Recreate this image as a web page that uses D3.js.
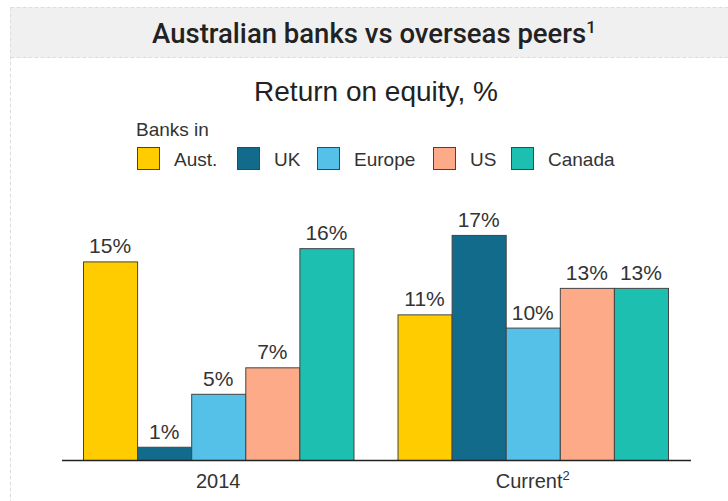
<!DOCTYPE html>
<html>
<head>
<meta charset="utf-8">
<script src="https://cdn.jsdelivr.net/npm/d3@7"></script>
<style>
  body { margin: 0; background: #fff; }
  svg text { font-family: "Liberation Sans", Arial, sans-serif; fill: #333; }
</style>
</head>
<body>
<div id="chart"></div>
<script>
// chart data
var groups = ["2014", "Current"];
var banks = ["Aust.", "UK", "Europe", "US", "Canada"];
var colors = ["#ffcc00", "#136b8c", "#55c1e8", "#fdaa88", "#1dbfb0"];
var values2014 = [15, 1, 5, 7, 16];
var valuesCurrent = [11, 17, 10, 13, 13];

var svgWidth = 728;
var svgHeight = 501;

var svg = d3.select("#chart")
  .append("svg")
  .attr("width", svgWidth)
  .attr("height", svgHeight);

// header box
svg.append("rect")
  .attr("x", 10.5).attr("y", 7.5)
  .attr("width", 730).attr("height", 50)
  .attr("fill", "#f0f0f0");
svg.append("line")
  .attr("x1", 10.5).attr("x2", 728).attr("y1", 7.5).attr("y2", 7.5)
  .attr("stroke", "#ddd").attr("stroke-dasharray", "4,2");
svg.append("line")
  .attr("x1", 10.5).attr("x2", 728).attr("y1", 57.5).attr("y2", 57.5)
  .attr("stroke", "#ddd").attr("stroke-dasharray", "4,2");
svg.append("line")
  .attr("x1", 10.5).attr("x2", 10.5).attr("y1", 7.5).attr("y2", 501)
  .attr("stroke", "#ddd").attr("stroke-dasharray", "4,2");

var title = svg.append("text")
  .attr("x", 374).attr("y", 43)
  .attr("text-anchor", "middle")
  .style("font-family", "Roboto, sans-serif")
  .style("font-weight", "500")
  .style("font-size", "27.5px")
  .style("fill", "#222")
  .text("Australian banks vs overseas peers");
title.append("tspan")
  .attr("dy", -10)
  .style("font-size", "17px")
  .text("1");

svg.append("text")
  .attr("x", 376).attr("y", 101)
  .attr("text-anchor", "middle")
  .style("font-size", "28px")
  .style("fill", "#222")
  .text("Return on equity, %");

// legend
svg.append("text")
  .attr("x", 136).attr("y", 136)
  .style("font-size", "19px")
  .text("Banks in");

var legendX = [137, 237, 317, 433, 511];
var legend = svg.selectAll(".legend")
  .data(banks)
  .enter()
  .append("g")
  .attr("class", "legend")
  .attr("transform", (d, i) => `translate(${legendX[i]}, 147)`);

legend.append("rect")
  .attr("x", 0.5).attr("y", 0.5)
  .attr("width", 22).attr("height", 22)
  .attr("fill", (d, i) => colors[i])
  .attr("stroke", "#444");

legend.append("text")
  .attr("x", 37).attr("y", 19)
  .style("font-size", "19px")
  .text(d => d);

// scales
var baseline = 460;
var x0 = d3.scaleBand()
  .domain(groups)
  .range([83, 668])
  .paddingInner(0.14);

var x1 = d3.scaleBand()
  .domain(banks)
  .range([0, x0.bandwidth()]);

var y = d3.scaleLinear()
  .domain([0, 17])
  .range([baseline, baseline - 17 * 13.24]);

var data = groups.map(function(g, gi) {
  var vals = gi === 0 ? values2014 : valuesCurrent;
  return { group: g, items: banks.map((b, i) => ({ bank: b, value: vals[i], color: colors[i] })) };
});

var groupG = svg.selectAll(".group")
  .data(data)
  .enter()
  .append("g")
  .attr("class", "group")
  .attr("transform", d => `translate(${x0(d.group)}, 0)`);

groupG.selectAll("rect")
  .data(d => d.items)
  .enter()
  .append("rect")
  .attr("x", d => x1(d.bank) + 0.5)
  .attr("y", d => y(d.value) + 0.5)
  .attr("width", x1.bandwidth())
  .attr("height", d => baseline - y(d.value))
  .attr("fill", d => d.color)
  .attr("stroke", "#444")
  .attr("stroke-width", 1);

groupG.selectAll(".val")
  .data(d => d.items)
  .enter()
  .append("text")
  .attr("class", "val")
  .attr("x", d => x1(d.bank) + x1.bandwidth() / 2)
  .attr("y", d => y(d.value) - 8)
  .attr("text-anchor", "middle")
  .style("font-size", "21px")
  .text(d => d.value + "%");

// x axis
var bottomAxis = d3.axisBottom(x0).tickSize(0).tickPadding(13);
var axisG = svg.append("g")
  .attr("transform", `translate(0, ${baseline + 0.5})`)
  .call(bottomAxis);
axisG.select(".domain").remove();
axisG.append("line")
  .attr("x1", 62).attr("x2", 691)
  .attr("stroke", "#222").attr("stroke-width", 1.5);
axisG.selectAll(".tick text")
  .style("font-size", "20px")
  .style("font-family", "Liberation Sans, Arial, sans-serif")
  .attr("fill", "#333");
axisG.selectAll(".tick text")
  .filter(d => d === "Current")
  .append("tspan")
  .attr("dy", -8)
  .style("font-size", "13px")
  .text("2");
</script>
</body>
</html>
